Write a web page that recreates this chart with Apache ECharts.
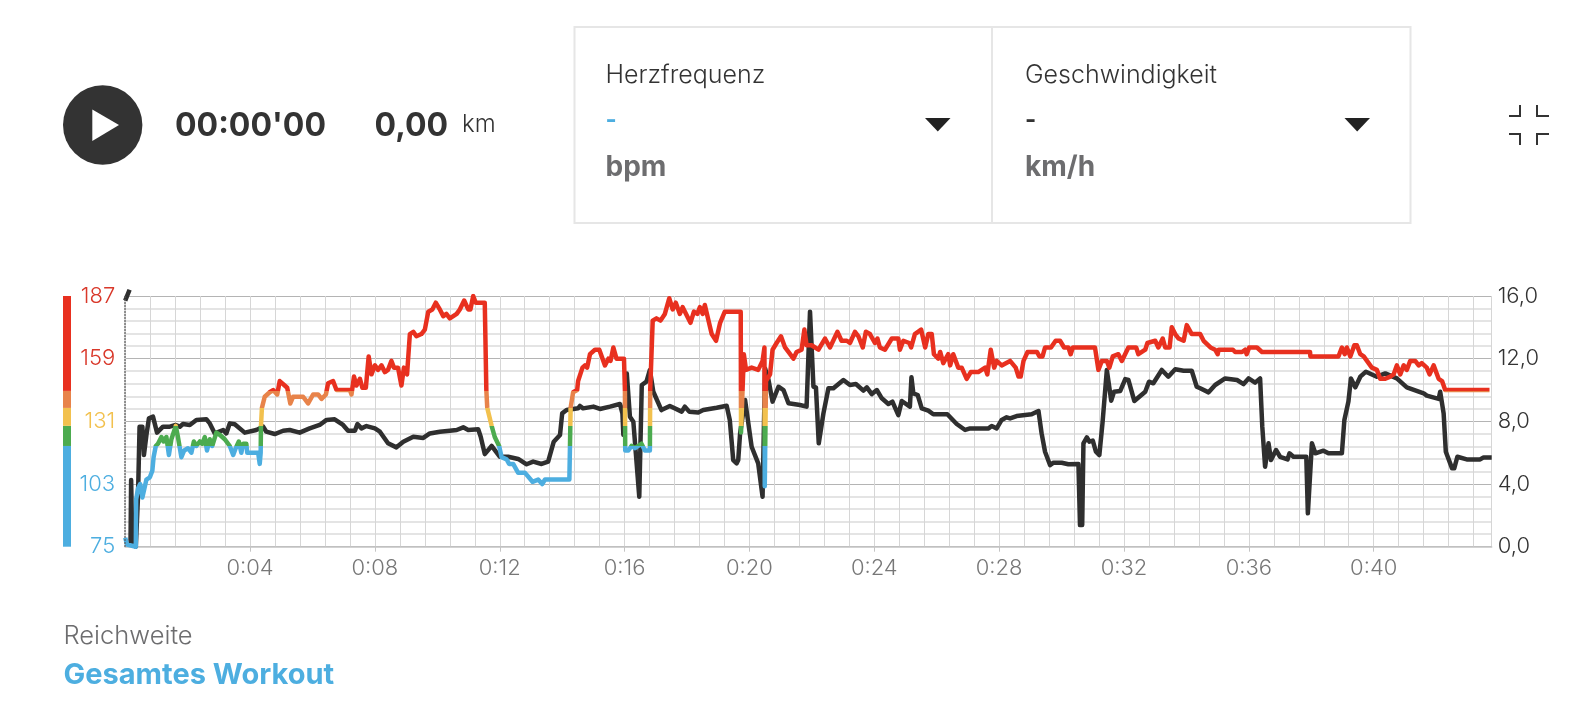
<!DOCTYPE html>
<html><head><meta charset="utf-8">
<style>html,body{margin:0;padding:0;background:#fff}#c{width:1575px;height:712px}</style>
<script src="https://cdn.jsdelivr.net/npm/echarts@6/dist/echarts.min.js"></script>
</head><body><div id="c"></div>
<script>
const hrTime=[0,0.06,0.34,0.35,0.41,0.48,0.55,0.68,0.79,0.87,0.91,0.98,1.05,1.16,1.23,1.32,1.40,1.48,1.62,1.69,1.80,1.89,2.01,2.12,2.20,2.28,2.39,2.47,2.55,2.62,2.71,2.79,2.92,3.03,3.19,3.35,3.46,3.54,3.64,3.72,3.78,3.88,3.91,4.10,4.26,4.31,4.34,4.35,4.38,4.47,4.63,4.74,4.87,4.95,5.11,5.19,5.29,5.38,5.54,5.70,5.86,6.02,6.18,6.29,6.43,6.50,6.66,6.77,7.20,7.25,7.33,7.41,7.52,7.60,7.71,7.80,7.89,8.00,8.10,8.21,8.32,8.42,8.53,8.61,8.74,8.85,8.93,9.03,9.12,9.23,9.33,9.49,9.60,9.71,9.84,9.95,10.08,10.19,10.29,10.40,
10.62,10.72,10.86,10.99,11.06,11.15,11.23,11.52,11.57,11.60,11.74,11.84,11.98,12.06,12.22,12.30,12.43,12.59,12.81,13.05,13.23,13.36,13.45,14.23,14.25,14.27,14.35,14.48,14.51,14.65,14.73,14.80,14.89,15.05,15.19,15.37,15.48,15.55,15.64,15.74,15.98,16.01,16.02,16.12,16.22,16.33,16.54,16.65,16.81,16.82,16.90,17.02,17.15,17.29,17.43,17.54,17.64,17.77,17.86,18.11,18.22,18.33,18.41,18.50,18.57,18.79,18.93,19.06,19.21,19.72,19.73,19.82,19.89,20.07,20.28,20.42,20.48,20.49,20.53,20.66,20.74,20.87,21.01,21.14,21.25,21.41,21.51,21.67,21.76,21.83,21.99,22.21,22.42,22.58,22.82,22.95,23.12,23.22,
23.38,23.49,23.63,23.73,23.86,24.02,24.10,24.18,24.34,24.56,24.77,24.82,24.93,25.12,25.18,25.30,25.50,25.63,25.73,25.84,25.91,26.05,26.11,26.21,26.37,26.43,26.53,26.69,26.80,26.96,27.09,27.33,27.55,27.62,27.73,27.84,27.92,28.08,28.35,28.53,28.62,28.69,28.78,28.91,29.21,29.29,29.39,29.47,29.66,29.81,29.95,30.08,30.22,30.29,30.36,31.07,31.18,31.29,31.45,31.53,31.64,31.82,31.93,32.14,32.39,32.46,32.68,32.75,33.00,33.10,33.24,33.32,33.46,33.53,33.64,33.75,33.91,34.01,34.17,34.44,
34.55,34.77,34.92,35.00,35.03,35.49,35.56,35.78,35.88,35.93,36.01,36.26,36.42,37.96,37.97,38.87,38.98,39.07,39.14,39.25,39.38,39.46,39.57,39.68,39.94,40.10,40.21,40.37,40.53,40.64,40.74,40.85,40.96,41.06,41.17,41.33,41.44,41.54,41.70,41.79,41.92,42.08,42.19,42.29,43.71];
const hrValues=[79,76,75,96,101,103,97,105,106,109,115,120,121,124,122,124,116,123,129,124,115,118,119,117,122,120,122,121,124,118,123,120,126,125,123,120,116,119,122,117,121,121,117,117,117,112,117,129,137,142,144,145,143,149,147,146,139,142,142,142,139,143,143,141,143,148,149,145,145,143,151,147,150,146,146,160,152,156,154,156,153,154,158,155,155,147,155,152,170,171,169,170,172,180,181,184,181,178,179,177,
179,181,185,181,181,187,184,184,145,137,129,124,120,115,114,112,112,108,108,104,105,103,105,105,120,137,144,145,149,155,156,155,161,163,163,156,159,158,164,159,159,145,118,118,120,119,121,118,118,145,176,177,176,179,186,181,184,179,182,175,180,179,182,179,183,170,167,175,180,180,126,161,154,155,154,158,164,102,149,152,163,166,169,164,162,159,162,163,172,165,165,163,168,164,171,167,167,166,
171,169,164,171,170,166,168,164,163,168,168,163,167,166,164,170,172,164,170,170,161,159,162,157,161,156,161,155,155,150,153,153,155,152,163,155,158,156,158,155,151,151,158,162,162,160,160,164,164,167,167,164,164,161,164,164,154,158,158,155,160,161,158,164,164,161,163,166,167,164,168,164,164,173,170,168,167,174,170,170,
167,164,163,161,163,163,162,162,163,161,164,164,162,162,160,160,164,161,164,160,165,165,161,160,155,154,150,150,151,152,156,152,156,154,158,158,156,157,155,152,156,150,149,145,145];

const speedTime=[0,0.14,0.15,0.17,0.19,0.22,0.34,0.41,0.46,0.55,0.60,0.68,0.76,0.89,1.02,1.21,1.43,1.62,1.75,1.85,2.07,2.28,2.60,2.71,2.87,3.14,3.24,3.35,3.51,3.83,4.20,4.42,4.52,4.79,5.06,5.27,5.59,5.91,6.23,6.45,6.71,6.98,7.14,7.36,7.44,7.57,7.73,8.00,8.16,8.42,8.69,8.91,9.23,9.55,9.76,10.08,10.40,
10.62,10.83,10.99,11.31,11.39,11.52,11.74,12.00,12.27,12.59,12.86,13.07,13.34,13.55,13.73,13.93,14.00,14.14,14.51,14.57,14.67,15.00,15.21,15.53,15.85,15.93,15.96,16.07,16.17,16.28,16.36,16.47,16.51,16.55,16.70,16.81,16.92,17.18,17.45,17.83,17.93,18.07,18.36,18.52,18.95,19.27,19.37,19.48,19.59,19.64,19.70,19.86,20.07,20.28,20.42,20.50,20.61,20.74,20.93,21.09,21.25,21.62,21.83,21.94,22.05,22.13,22.22,22.37,22.53,22.69,23.01,23.22,
23.41,23.65,23.76,23.92,24.08,24.24,24.45,24.58,24.77,24.88,25.14,25.19,25.25,25.39,25.52,25.73,25.89,26.34,26.64,26.91,27.07,27.66,27.76,27.92,28.08,28.24,28.35,28.56,29.04,29.26,29.36,29.47,29.63,29.74,30.00,30.06,30.22,30.54,30.59,30.66,30.70,30.81,30.89,31.00,31.10,31.21,31.31,31.45,31.59,31.68,31.88,32.04,32.14,32.33,32.68,32.80,32.94,33.21,33.42,33.64,33.91,34.17,34.33,
34.44,34.71,34.92,35.24,35.62,35.83,35.99,36.20,36.36,36.43,36.52,36.63,36.71,36.87,37.00,37.24,37.30,37.43,37.84,37.89,37.93,38.02,38.13,38.39,38.55,38.98,39.06,39.19,39.27,39.41,39.57,39.75,40.10,40.37,40.74,41.06,41.60,41.70,42.08,42.13,42.24,42.31,42.51,42.58,42.68,42.98,43.41,43.52,43.78];
const speedValues=[15.7,16.4,null,0.1,4.26,1.0,0,3.19,7.66,7.66,5.85,7.13,8.19,8.30,7.28,7.66,7.66,7.77,7.66,7.83,7.77,8.09,8.13,7.87,7.23,7.45,7.23,7.87,7.81,7.28,7.45,7.66,7.34,7.19,7.40,7.45,7.28,7.55,7.77,8.09,8.13,7.77,7.40,7.40,7.83,7.55,7.70,7.55,7.34,6.60,6.34,6.70,7.02,6.94,7.23,7.34,7.40,
7.45,7.62,7.45,7.49,7.02,5.91,6.43,5.74,5.74,5.60,5.26,5.43,5.28,5.43,6.70,7.13,8.51,8.72,8.83,8.98,8.83,8.94,8.79,8.94,9.11,8.51,7.13,11.06,8.30,7.98,5.96,3.19,3.19,10.32,10.53,11.28,9.89,8.72,8.98,8.62,8.94,8.62,8.57,8.72,8.87,9.00,8.09,5.53,5.32,5.53,7.23,9.36,6.38,5.32,3.19,11.38,10.64,9.26,10.21,10.00,9.15,9.04,8.94,15.0,10.21,10.17,6.60,8.51,10.11,10.11,10.64,10.32,
10.38,9.96,10.17,9.74,10.0,9.47,9.11,9.26,8.40,9.30,8.94,10.81,9.79,9.68,8.83,8.68,8.45,8.45,7.83,7.45,7.55,7.55,7.70,7.55,8.09,8.26,8.19,8.34,8.45,8.66,7.23,6.06,5.21,5.36,5.36,5.47,5.26,5.28,1.38,1.38,6.60,6.98,6.70,6.77,6.06,5.85,7.87,11.28,9.32,9.89,9.94,10.70,10.64,9.30,9.89,10.53,10.43,11.28,10.85,11.32,11.23,11.23,10.21,
10.11,9.85,10.32,10.74,10.64,10.38,10.74,10.47,10.74,7.66,5.11,6.60,5.53,6.17,5.74,5.57,5.96,5.74,5.74,2.13,2.13,6.60,5.96,6.13,5.96,5.96,8.09,9.26,10.74,10.17,10.85,11.17,10.85,11.06,10.74,10.17,9.79,9.64,9.43,9.89,8.51,6.06,5.0,5.0,5.74,5.57,5.57,5.70,5.70];

const zoneLimits=[120,129,137,144.6,187];
const zoneColors=['#4DAEE0','#4CAB4F','#F2C14E','#E8834A','#E8301F'];
const hrTicks=[75,103,131,159,187];
const hrTickColors=['#4DAEE0','#4DAEE0','#F2C14E','#D9382A','#D9382A'];
const FONT='Inter';
const GRID={left:125.2,top:296,width:1366.5,height:250.7};
const TMAX=43.78;

const pair=(a,b)=>a.map((v,i)=>[v,b[i]]);
const zonePieces=zoneLimits.map((lim,i)=>{
  const p={color:zoneColors[i]};
  if(i>0)p.gte=zoneLimits[i-1];
  if(i<zoneLimits.length-1)p.lt=lim;
  return p;
});
const text=(x,y,t,size,weight,fill)=>({type:'text',x,y,silent:true,
  style:{text:t,font:`${weight} ${size}px ${FONT}`,fill,verticalAlign:'middle',align:'left'}});
const poly=(pts,fill)=>({type:'polygon',silent:true,shape:{points:pts},style:{fill}});
const seg=(pts,stroke,w)=>({type:'polyline',silent:true,shape:{points:pts},style:{stroke,lineWidth:w,fill:null}});
const DARK='#333333',GREY='#6d6d6f',BOX='#e6e6e6',BLUE='#4DAEE0';

const chart=echarts.init(document.getElementById('c'),null,{renderer:'canvas'});
chart.setOption({
  animation:false,
  backgroundColor:'#fff',
  grid:[GRID,{left:63,top:GRID.top,width:8,height:GRID.height}],
  visualMap:{show:false,type:'piecewise',seriesIndex:0,dimension:1,pieces:zonePieces},
  xAxis:[
    {type:'value',gridIndex:0,min:0,max:TMAX,interval:4,position:'bottom',
     axisLine:{show:true,lineStyle:{color:'#c4c4c4',width:1.5}},
     axisTick:{show:true,length:5,lineStyle:{color:'#c4c4c4',width:1}},
     axisLabel:{showMaxLabel:false,showMinLabel:false,margin:11,fontFamily:FONT,fontWeight:300,fontSize:22,color:'#777',
       formatter:v=>'0:'+String(Math.round(v)).padStart(2,'0')},
     splitLine:{show:true,lineStyle:{color:'#bdbdbd',width:1}}},
    {type:'value',gridIndex:0,min:0,max:TMAX,interval:0.8,position:'bottom',
     axisLine:{show:false},axisTick:{show:false},axisLabel:{show:false},
     splitLine:{show:true,lineStyle:{color:'#d6d6d6',width:1}}},
    {type:'category',gridIndex:1,data:['zone'],show:false}
  ],
  yAxis:[
    {type:'value',gridIndex:0,min:75,max:187,interval:28,position:'left',
     axisLine:{show:false},axisTick:{show:false},splitLine:{show:false},
     axisLabel:{margin:10,padding:[3,0,0,0],fontFamily:FONT,fontWeight:300,fontSize:22,
       color:v=>hrTickColors[hrTicks.indexOf(Number(v))]}},
    {type:'value',gridIndex:0,min:0,max:16,interval:4,position:'right',
     axisLine:{show:true,lineStyle:{color:'#d6d6d6',width:1.5}},axisTick:{show:false},
     minorTick:{show:false,splitNumber:5},
     minorSplitLine:{show:true,lineStyle:{color:'#dcdcdc',width:1.5}},
     splitLine:{show:true,lineStyle:{color:'#b4b4b4',width:1.2}},
     axisLabel:{margin:6,padding:[3,0,0,0],fontFamily:FONT,fontWeight:300,fontSize:22,color:'#333',
       formatter:v=>v.toFixed(1).replace('.',',')}},
    {type:'value',gridIndex:1,min:75,max:187,show:false}
  ],
  series:[
    {name:'Herzfrequenz',type:'line',xAxisIndex:0,yAxisIndex:0,z:4,showSymbol:false,smooth:false,
     lineStyle:{width:4.5,join:'round'},data:pair(hrTime,hrValues)},
    {name:'Geschwindigkeit',type:'line',xAxisIndex:0,yAxisIndex:1,z:3,showSymbol:false,smooth:false,clip:false,
     connectNulls:false,lineStyle:{width:4.5,color:'#2f2f2f',join:'round'},data:pair(speedTime,speedValues),
     markLine:{silent:true,symbol:'none',label:{show:false},
       lineStyle:{color:'#555',type:'dotted',width:1.5},data:[{xAxis:0}]}}
  ].concat(zoneLimits.map((lim,i)=>({
     type:'bar',xAxisIndex:2,yAxisIndex:2,stack:'zones',barWidth:'100%',silent:true,
     itemStyle:{color:zoneColors[i]},data:[i?lim-zoneLimits[i-1]:lim]}))),
  graphic:[
    {type:'circle',silent:true,shape:{cx:102.7,cy:125,r:39.7},style:{fill:DARK}},
    poly([[92.3,109.5],[119,125],[92.3,141]],'#fff'),
    text(175,126.5,"00:00'00",32,700,DARK),
    text(374.5,126.5,'0,00',32,700,DARK),
    text(462,125,'km',24,300,DARK),
    {type:'rect',silent:true,shape:{x:574.5,y:27,width:836,height:196},style:{fill:'none',stroke:BOX,lineWidth:2}},
    {type:'line',silent:true,shape:{x1:992,y1:27,x2:992,y2:223},style:{stroke:BOX,lineWidth:2}},
    text(605.5,75,'Herzfrequenz',25,300,DARK),
    text(605.5,121,'-',24,700,BLUE),
    text(605.5,168,'bpm',28,700,GREY),
    text(1025,75,'Geschwindigkeit',25,300,DARK),
    text(1025,121,'-',24,700,DARK),
    text(1025,168,'km/h',28,700,GREY),
    poly([[925,118],[950.5,118],[937.8,131.5]],'#222'),
    poly([[1344.5,118],[1370,118],[1357.2,131.5]],'#222'),
    seg([[1509,116],[1520,116],[1520,105]],DARK,2),
    seg([[1537,105],[1537,116],[1549,116]],DARK,2),
    seg([[1509,134],[1520,134],[1520,145]],DARK,2),
    seg([[1549,134],[1537,134],[1537,145]],DARK,2),
    text(63.5,636,'Reichweite',25.5,300,GREY),
    text(63.5,675,'Gesamtes Workout',29,700,BLUE)
  ]
});
</script></body></html>
